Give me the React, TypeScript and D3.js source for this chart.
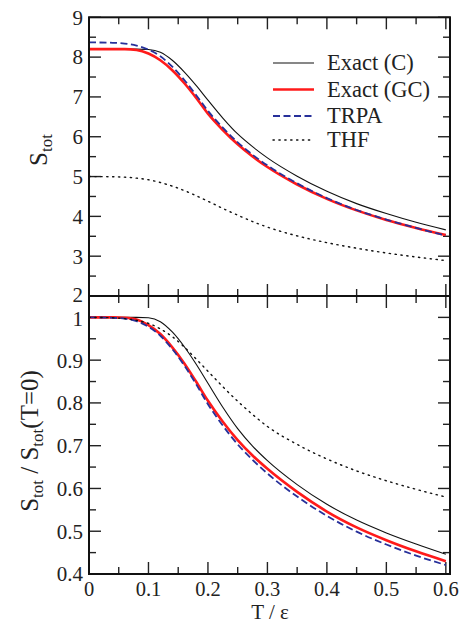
import React from "react";
import * as d3 from "d3";

// Temperature grid T / ε
const T = [0, 0.04, 0.06, 0.08, 0.1, 0.12, 0.14, 0.16, 0.18, 0.2, 0.225, 0.25, 0.275, 0.3, 0.35, 0.4, 0.45, 0.5, 0.55, 0.6];

// Top panel: S_tot
const exactC = [8.2, 8.2, 8.2, 8.2, 8.19, 8.12, 7.92, 7.63, 7.29, 6.92, 6.47, 6.07, 5.75, 5.47, 5.01, 4.63, 4.32, 4.07, 3.85, 3.66];
const exactGC = [8.2, 8.2, 8.2, 8.18, 8.09, 7.92, 7.67, 7.35, 6.98, 6.58, 6.17, 5.81, 5.505, 5.24, 4.8, 4.44, 4.15, 3.91, 3.71, 3.53];
const trpa = [8.37, 8.36, 8.34, 8.29, 8.19, 8.02, 7.76, 7.43, 7.05, 6.65, 6.23, 5.86, 5.55, 5.28, 4.83, 4.46, 4.16, 3.92, 3.71, 3.52];
const thf = [5.0, 4.995, 4.985, 4.96, 4.92, 4.85, 4.76, 4.65, 4.52, 4.38, 4.2, 4.03, 3.87, 3.73, 3.51, 3.34, 3.2, 3.08, 2.98, 2.89];

// Bottom panel: S_tot / S_tot(T=0)
const ratioC = [1, 1, 1, 1, 0.999, 0.99, 0.966, 0.932, 0.891, 0.846, 0.79, 0.74, 0.699, 0.665, 0.609, 0.563, 0.526, 0.496, 0.47, 0.446];
const ratioGC = [1, 1, 0.999, 0.995, 0.982, 0.961, 0.93, 0.893, 0.85, 0.805, 0.756, 0.713, 0.677, 0.646, 0.592, 0.546, 0.509, 0.479, 0.453, 0.43];
const ratioTRPA = [1, 0.999, 0.997, 0.991, 0.978, 0.957, 0.926, 0.888, 0.844, 0.797, 0.747, 0.703, 0.667, 0.635, 0.581, 0.536, 0.499, 0.469, 0.443, 0.421];
const ratioTHF = [1, 0.999, 0.997, 0.993, 0.986, 0.973, 0.955, 0.931, 0.903, 0.874, 0.838, 0.804, 0.773, 0.745, 0.703, 0.669, 0.641, 0.618, 0.598, 0.58];

const xTicks = [0, 0.1, 0.2, 0.3, 0.4, 0.5, 0.6];
const xTickLabels = ["0", "0.1", "0.2", "0.3", "0.4", "0.5", "0.6"];
const topTicks = [2, 3, 4, 5, 6, 7, 8, 9];
const bottomTicks = [0.4, 0.5, 0.6, 0.7, 0.8, 0.9, 1.0];
const bottomTickLabels = ["0.4", "0.5", "0.6", "0.7", "0.8", "0.9", "1"];

const legendNames = ["Exact (C)", "Exact (GC)", "TRPA", "THF"];

const FONT = "'Liberation Serif', 'Times New Roman', Times, 'DejaVu Serif', serif";

const styles = [
  { stroke: "#111", width: 1.1, dash: "" },
  { stroke: "#ff1a1a", width: 2.6, dash: "" },
  { stroke: "#27309a", width: 1.8, dash: "7 3.5" },
  { stroke: "#111", width: 1.4, dash: "1.3 4.6" },
];

const L = 89, R = 450, TOP = 17.3, MID = 296, BOT = 574;

export default function App() {
  const x = d3.scaleLinear().domain([0, 0.607]).range([L, R]);
  const yTop = d3.scaleLinear().domain([2, 9]).range([MID, TOP]);
  const yBot = d3.scaleLinear().domain([0.4, 1.05]).range([BOT, MID]);

  const mk = (ys: number[], y: d3.ScaleLinear<number, number>) =>
    d3.line<number>().x((_, i) => x(T[i])).y((v) => y(v)).curve(d3.curveMonotoneX)(ys) || "";

  const topSeries = [exactC, exactGC, trpa, thf];
  const botSeries = [ratioC, ratioGC, ratioTRPA, ratioTHF];

  const major = 12, minor = 7;
  const xMinor = d3.range(0.05, 0.61, 0.1);
  const topMinor = d3.range(2.5, 9, 1);
  const botMinor = d3.range(0.45, 1.06, 0.1);

  const tickStroke = "#222";
  const tw = 1.4;

  const xTickMarks = (yEdge: number, dir: number) => (
    <g>
      {xTicks.map((t) => (
        <line key={"M" + t} x1={x(t)} x2={x(t)} y1={yEdge} y2={yEdge + dir * major} stroke={tickStroke} strokeWidth={tw} />
      ))}
      {xMinor.map((t) => (
        <line key={"m" + t} x1={x(t)} x2={x(t)} y1={yEdge} y2={yEdge + dir * minor} stroke={tickStroke} strokeWidth={tw} />
      ))}
    </g>
  );

  const yTickMarks = (vals: number[], mins: number[], y: d3.ScaleLinear<number, number>) => (
    <g>
      {vals.map((v) => (
        <g key={"M" + v}>
          <line x1={L} x2={L + major} y1={y(v)} y2={y(v)} stroke={tickStroke} strokeWidth={tw} />
          <line x1={R} x2={R - major} y1={y(v)} y2={y(v)} stroke={tickStroke} strokeWidth={tw} />
        </g>
      ))}
      {mins.map((v) => (
        <g key={"m" + v}>
          <line x1={L} x2={L + minor} y1={y(v)} y2={y(v)} stroke={tickStroke} strokeWidth={tw} />
          <line x1={R} x2={R - minor} y1={y(v)} y2={y(v)} stroke={tickStroke} strokeWidth={tw} />
        </g>
      ))}
    </g>
  );

  const legendBase = [70, 96.5, 123, 147];

  return (
    <svg width={462} height={623} style={{ position: "absolute", left: 0, top: 0, background: "#fff", fontFamily: FONT }}>
      <rect x={0} y={0} width={462} height={623} fill="#fff" />
      {xTickMarks(TOP, 1)}
      {xTickMarks(MID, -1)}
      {xTickMarks(MID, 1)}
      {xTickMarks(BOT, -1)}
      {yTickMarks(topTicks, topMinor, yTop)}
      {yTickMarks(bottomTicks, botMinor, yBot)}

      <g>
        {topSeries.map((s, i) => (
          <path key={"t" + i} d={mk(s, yTop)} fill="none" stroke={styles[i].stroke} strokeWidth={styles[i].width}
            strokeDasharray={styles[i].dash || undefined} strokeLinecap={i === 3 ? "round" : "butt"} />
        ))}
        {botSeries.map((s, i) => (
          <path key={"b" + i} d={mk(s, yBot)} fill="none" stroke={styles[i].stroke} strokeWidth={styles[i].width}
            strokeDasharray={styles[i].dash || undefined} strokeLinecap={i === 3 ? "round" : "butt"} />
        ))}
      </g>

      <rect x={L} y={TOP} width={R - L} height={MID - TOP} fill="none" stroke="#111" strokeWidth={2} />
      <rect x={L} y={MID} width={R - L} height={BOT - MID} fill="none" stroke="#111" strokeWidth={2} />

      <g style={{ fontFamily: FONT }} fill="#222">
        {topTicks.map((v) => (
          <text key={"tl" + v} x={L - 6} y={yTop(v) + (v === 2 ? -1 : 0)} dy="0.35em" textAnchor="end" fontSize={21}>{v}</text>
        ))}
        {bottomTicks.map((v, i) => (
          <text key={"bl" + v} x={L - 6} y={yBot(v) + (v === 1 ? 1 : 0)} dy="0.35em" textAnchor="end" fontSize={21}>{bottomTickLabels[i]}</text>
        ))}
        {xTicks.map((t, i) => (
          <text key={"xl" + t} x={x(t)} y={595.5} textAnchor="middle" fontSize={20.5}>{xTickLabels[i]}</text>
        ))}

        <text x={270} y={618.5} textAnchor="middle" fontSize={21}>T / ε</text>
        <text transform={`translate(47,150) rotate(-90)`} textAnchor="middle" fontSize={25}>
          S<tspan fontSize={17} dy={5}>tot</tspan>
        </text>
        <text transform={`translate(38,441) rotate(-90)`} textAnchor="middle" fontSize={25}>
          S<tspan fontSize={17} dy={5}>tot</tspan><tspan dy={-5}> / S</tspan><tspan fontSize={17} dy={5}>tot</tspan><tspan dy={-5}>(T=0)</tspan>
        </text>

        {legendNames.map((n, i) => (
          <g key={n}>
            <line x1={273} x2={314} y1={legendBase[i] - 7} y2={legendBase[i] - 7} stroke={styles[i].stroke}
              strokeWidth={styles[i].width} strokeDasharray={styles[i].dash || undefined} strokeLinecap={i === 3 ? "round" : "butt"} />
            <text x={327} y={legendBase[i]} fontSize={22.5}>{n}</text>
          </g>
        ))}
      </g>
    </svg>
  );
}
